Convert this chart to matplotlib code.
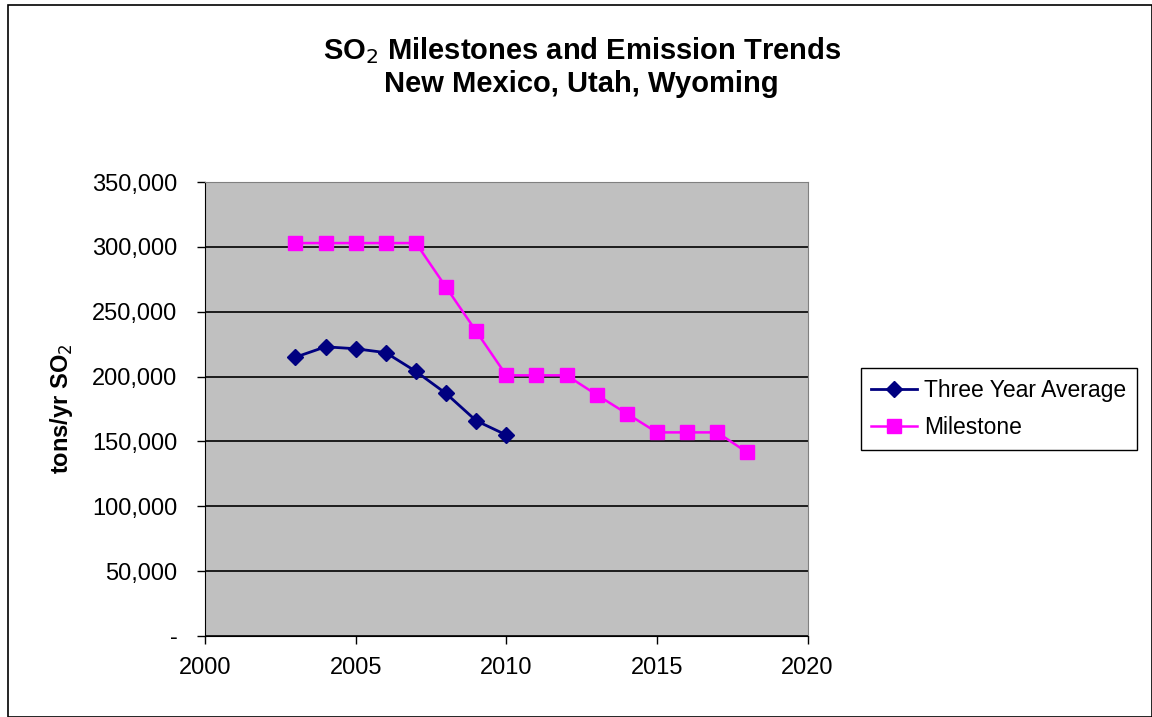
import matplotlib
matplotlib.use('Agg')
import matplotlib.pyplot as plt
from matplotlib.ticker import FuncFormatter
from matplotlib.patches import Rectangle

plt.rcParams['font.family'] = ['Liberation Sans', 'DejaVu Sans']

# data
avg_years = [2003, 2004, 2005, 2006, 2007, 2008, 2009, 2010]
avg_tons = [215000, 223000, 221500, 218500, 204000, 187000, 166000, 155000]

ms_years = list(range(2003, 2019))
ms_tons = [303000, 303000, 303000, 303000, 303000, 269000, 235000,
           201000, 201000, 201000, 186000, 171500, 157000, 157000, 157000, 141500]

fig = plt.figure(figsize=(11.52, 7.17), dpi=100)
fig.patches.append(Rectangle((0.007, 0.0), 0.993, 0.993, transform=fig.transFigure,
                             fill=False, edgecolor='black', linewidth=1.2))

ax = fig.add_axes([0.178, 0.113, 0.523, 0.633])
ax.set_facecolor('#C0C0C0')

ax.plot(avg_years, avg_tons, color='#000080', marker='D', markersize=8,
        linewidth=2, label='Three Year Average', zorder=3)
ax.plot(ms_years, ms_tons, color='#FF00FF', marker='s', markersize=10.5,
        linewidth=1.8, label='Milestone', zorder=3)

ax.set_xlim(2000, 2020)
ax.set_ylim(0, 350000)
ax.set_xticks([2000, 2005, 2010, 2015, 2020])
ax.set_yticks(range(0, 350001, 50000))
ax.yaxis.set_major_formatter(FuncFormatter(lambda v, p: '-' if v == 0 else f'{int(v):,}'))
ax.grid(axis='y', color='black', linewidth=1.2)
ax.set_axisbelow(True)
ax.tick_params(axis='both', labelsize=17, direction='out', length=6, width=1, pad=9)
ax.tick_params(axis='y', pad=14)

for s in ['top', 'right']:
    ax.spines[s].set_color('#808080')
for s in ['left', 'bottom']:
    ax.spines[s].set_color('black')

ax.set_ylabel('tons/yr SO$_2$', fontsize=17, fontweight='bold', labelpad=12)

fig.text(0.505, 0.907, 'SO$_2$ Milestones and Emission Trends\nNew Mexico, Utah, Wyoming',
         ha='center', va='center', fontsize=21, fontweight='bold', linespacing=1.15)

leg = ax.legend(loc='center left', bbox_to_anchor=(1.07, 0.5), fontsize=16.5,
                frameon=True, fancybox=False, edgecolor='black', framealpha=1,
                handlelength=2.0, handletextpad=0.3, borderpad=0.45, labelspacing=0.65)
leg.get_frame().set_linewidth(1)

fig.savefig('out.png', dpi=100)
